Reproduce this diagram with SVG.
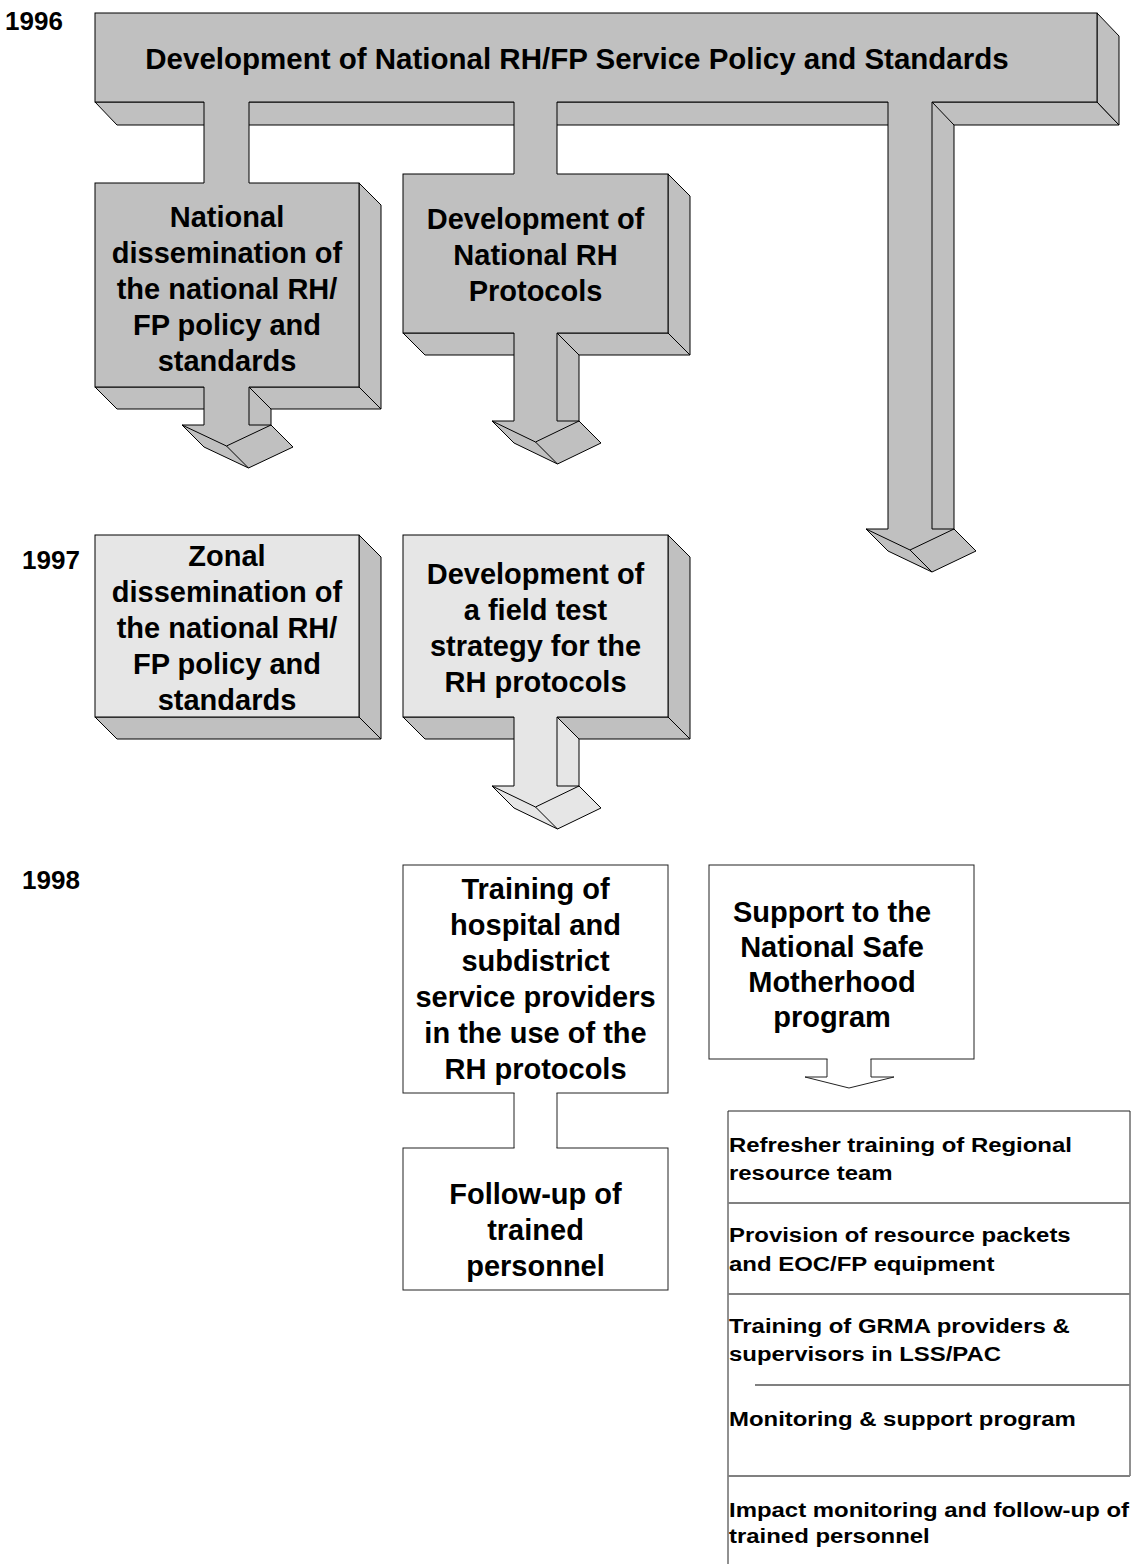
<svg xmlns="http://www.w3.org/2000/svg" width="1133" height="1564" viewBox="0 0 1133 1564">
<style>
.g{fill:#c0c0c0}
.l{fill:#e6e6e6}
.w{fill:#fff}
.s{stroke:#000;stroke-width:1}
.e{fill:none;stroke:#000;stroke-width:1}
.b{fill:#fff;stroke:#222;stroke-width:1}
.bl{fill:none;stroke:#222;stroke-width:1}
.sep{stroke:#808080;stroke-width:2}
.t{font-family:"Liberation Sans",Arial,Helvetica,sans-serif;font-weight:bold;fill:#000}
.c{text-anchor:middle}
.f29{font-size:29px}
.yr{font-size:26px}
.p{font-size:21px}
</style>
<rect x="0" y="0" width="1133" height="1564" fill="#fff"/>

<g id="years">
<text class="t yr" x="5" y="30">1996</text>
<text class="t yr" x="22" y="569">1997</text>
<text class="t yr" x="22" y="889">1998</text>
</g>

<g id="n-policy">
<polygon class="g s" points="95,102 1097,102 1119,125 117,125"/>
<polygon class="g s" points="1097,13 1119,36 1119,125 1097,102"/>
<rect class="g s" x="95" y="13" width="1002" height="89"/>
<text class="t c" font-size="29.5" x="577" y="69">Development of National RH/FP Service Policy and Standards</text>
</g>

<g id="n-natdiss">
<polygon class="g s" points="95,387 359,387 381,409 117,409"/>
<polygon class="g s" points="359,183 381,205 381,409 359,387"/>
<rect class="g s" x="95" y="183" width="264" height="204"/>
<text class="t c f29" x="227" y="227">National</text>
<text class="t c f29" x="227" y="263">dissemination of</text>
<text class="t c f29" x="227" y="299">the national RH/</text>
<text class="t c f29" x="227" y="335">FP policy and</text>
<text class="t c f29" x="227" y="371">standards</text>
</g>

<g id="n-protocols">
<polygon class="g s" points="403,333 668,333 690,355 425,355"/>
<polygon class="g s" points="668,174 690,196 690,355 668,333"/>
<rect class="g s" x="403" y="174" width="265" height="159"/>
<text class="t c f29" x="535.5" y="229">Development of</text>
<text class="t c f29" x="535.5" y="265">National RH</text>
<text class="t c f29" x="535.5" y="301">Protocols</text>
</g>

<g id="n-zonal">
<polygon class="g s" points="95,717 359,717 381,739 117,739"/>
<polygon class="g s" points="359,535 381,557 381,739 359,717"/>
<rect class="l s" x="95" y="535" width="264" height="182"/>
<text class="t c f29" x="227" y="566">Zonal</text>
<text class="t c f29" x="227" y="602">dissemination of</text>
<text class="t c f29" x="227" y="638">the national RH/</text>
<text class="t c f29" x="227" y="674">FP policy and</text>
<text class="t c f29" x="227" y="710">standards</text>
</g>

<g id="n-fieldtest">
<polygon class="g s" points="403,717 668,717 690,739 425,739"/>
<polygon class="g s" points="668,535 690,557 690,739 668,717"/>
<rect class="l s" x="403" y="535" width="265" height="182"/>
<text class="t c f29" x="535.5" y="584">Development of</text>
<text class="t c f29" x="535.5" y="620">a field test</text>
<text class="t c f29" x="535.5" y="656">strategy for the</text>
<text class="t c f29" x="535.5" y="692">RH protocols</text>
</g>

<g id="n-training">
<rect class="b" x="403" y="865" width="265" height="228"/>
<text class="t c f29" x="535.5" y="899">Training of</text>
<text class="t c f29" x="535.5" y="935">hospital and</text>
<text class="t c f29" x="535.5" y="971">subdistrict</text>
<text class="t c f29" x="535.5" y="1007">service providers</text>
<text class="t c f29" x="535.5" y="1043">in the use of the</text>
<text class="t c f29" x="535.5" y="1079">RH protocols</text>
</g>

<g id="n-followup">
<rect class="b" x="403" y="1148" width="265" height="142"/>
<text class="t c f29" x="535.5" y="1204">Follow-up of</text>
<text class="t c f29" x="535.5" y="1240">trained</text>
<text class="t c f29" x="535.5" y="1276">personnel</text>
</g>

<g id="n-safemotherhood">
<rect class="b" x="709" y="865" width="265" height="194"/>
<text class="t c f29" x="832" y="921.5">Support to the</text>
<text class="t c f29" x="832" y="956.5">National Safe</text>
<text class="t c f29" x="832" y="991.5">Motherhood</text>
<text class="t c f29" x="832" y="1026.5">program</text>
</g>

<g id="n-activities">
<line class="bl" x1="728" y1="1111" x2="728" y2="1564"/>
<line class="bl" x1="728" y1="1111" x2="1130" y2="1111"/>
<line class="bl" x1="1130" y1="1111" x2="1130" y2="1476"/>
<line class="sep" x1="728" y1="1203" x2="1130" y2="1203"/>
<line class="sep" x1="728" y1="1294" x2="1130" y2="1294"/>
<line class="sep" x1="755" y1="1385" x2="1130" y2="1385"/>
<line class="sep" x1="728" y1="1476" x2="1130" y2="1476"/>
<g transform="translate(729 0) scale(1.14 1)">
<text class="t p" x="0" y="1152.5">Refresher training of Regional</text>
<text class="t p" x="0" y="1180.5">resource team</text>
<text class="t p" x="0" y="1242.5">Provision of resource packets</text>
<text class="t p" x="0" y="1271.5">and EOC/FP equipment</text>
<text class="t p" x="0" y="1333">Training of GRMA providers &amp;</text>
<text class="t p" x="0" y="1361.5">supervisors in LSS/PAC</text>
<text class="t p" x="0" y="1426">Monitoring &amp; support program</text>
<text class="t p" x="0" y="1517">Impact monitoring and follow-up of</text>
<text class="t p" x="0" y="1543">trained personnel</text>
</g>
</g>

<g id="connectors">
<rect class="g" x="204" y="101" width="45" height="83"/>
<path class="e" d="M204,102V183M249,102V183"/>
<rect class="g" x="514" y="101" width="43" height="74"/>
<path class="e" d="M514,102V174M557,102V174"/>
<rect class="g" x="888" y="101" width="44" height="428"/>
<polygon class="g" points="932,102 954,125 954,529 932,529"/>
<path class="e" d="M888,102V529M932,102V529M932,102L954,125V529"/>
<polygon class="g" points="866,529 954,529 976,551 932,572 888,551"/>
<path class="e" d="M866,529H888M932,529H954M866,529L910,550L954,529M866,529L888,551L932,572L976,551L954,529M910,550L932,572"/>
<rect class="g" x="204" y="386" width="45" height="39"/>
<polygon class="g" points="249,387 271,409 271,425 249,425"/>
<path class="e" d="M204,387V425M249,387V425M249,387L271,409V425"/>
<polygon class="g" points="182,425 271,425 293,447 248.5,468 204,447"/>
<path class="e" d="M182,425H204M249,425H271M182,425L226.5,446L271,425M182,425L204,447L248.5,468L293,447L271,425M226.5,446L248.5,468"/>
<rect class="g" x="514" y="332" width="43" height="89"/>
<polygon class="g" points="557,333 579,355 579,421 557,421"/>
<path class="e" d="M514,333V421M557,333V421M557,333L579,355V421"/>
<polygon class="g" points="492,421 579,421 601,443 557.5,464 514,443"/>
<path class="e" d="M492,421H514M557,421H579M492,421L535.5,442L579,421M492,421L514,443L557.5,464L601,443L579,421M535.5,442L557.5,464"/>
<rect class="l" x="514" y="716" width="43" height="70"/>
<polygon class="l" points="557,717 579,739 579,786 557,786"/>
<path class="e" d="M514,717V786M557,717V786M557,717L579,739V786"/>
<polygon class="l" points="492,786 579,786 601,808 557.5,829 514,808"/>
<path class="e" d="M492,786H514M557,786H579M492,786L535.5,807L579,786M492,786L514,808L557.5,829L601,808L579,786M535.5,807L557.5,829"/>
<rect class="w" x="514.5" y="1092" width="42" height="57"/>
<path class="bl" d="M514,1093V1148M557,1093V1148"/>
<rect class="w" x="827.5" y="1058" width="43" height="3"/>
<path class="bl" d="M827,1059V1077H805L849,1088L894,1077H871V1059"/>
</g>
</svg>
